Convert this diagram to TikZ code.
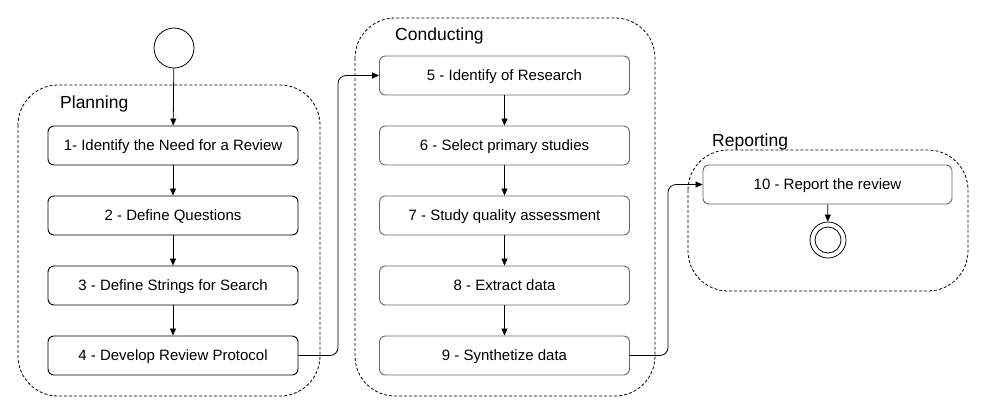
\documentclass[tikz,border=0pt]{standalone}
\usepackage{fontspec}
\setmainfont{Liberation Sans}
\usetikzlibrary{arrows.meta}
\begin{document}
\begin{tikzpicture}[x=1pt,y=-1pt,
  grp/.style={draw, dashed, dash pattern=on 3pt off 2pt, rounded corners=40pt, line width=0.8pt},
  stepbox/.style={draw, rounded corners=6pt, minimum width=250pt, minimum height=39pt, line width=0.9pt, font=\fontsize{15}{17}\selectfont, inner sep=0pt, text depth=0pt, text height=10.5pt},
  graybox/.style={stepbox, draw=black!60},
  grplabel/.style={anchor=west, font=\fontsize{17.5}{20}\selectfont, inner sep=0pt},
  conn/.style={-{Triangle[length=7pt,width=6pt]}, line width=0.8pt},
  elbow/.style={conn, rounded corners=8pt}
]
\useasboundingbox (0,0) rectangle (987,416);
% containers
\draw[grp] (18,85) rectangle (320,396);
\draw[grp] (355,18) rectangle (655,396);
\draw[grp] (688,150) rectangle (968,291);
\node[grplabel] (lp) at (60,104) {Planning};
\node[grplabel] (lc) at (395,35.5) {Conducting};
\node[grplabel] (lr) at (712,142) {Reporting};
% start
\node[draw, circle, minimum size=40pt, inner sep=0pt, line width=0.8pt] (start) at (174,48) {};
% planning
\node[stepbox] (s1) at (173,145.5) {1- Identify the Need for a Review};
\node[stepbox] (s2) at (173,215.5) {2 - Define Questions};
\node[stepbox] (s3) at (173,285.5) {3 - Define Strings for Search};
\node[stepbox] (s4) at (173,355.5) {4 - Develop Review Protocol};
% conducting
\node[graybox] (s5) at (504.5,75.5) {5 - Identify of Research};
\node[graybox] (s6) at (504.5,145.5) {6 - Select primary studies};
\node[graybox] (s7) at (504.5,215.5) {7 - Study quality assessment};
\node[graybox] (s8) at (504.5,285.5) {8 - Extract data};
\node[graybox] (s9) at (504.5,355.5) {9 - Synthetize data};
% reporting
\node[graybox, minimum width=249pt] (s10) at (827.5,184.5) {10 - Report the review};
\node[draw, circle, minimum size=36pt, inner sep=0pt, line width=0.8pt] (endo) at (828,240) {};
\node[draw, circle, minimum size=26pt, inner sep=0pt, line width=0.8pt] (endi) at (828,240) {};
% connectors
\draw[conn] (start) -- (s1);
\draw[conn] (s1) -- (s2);
\draw[conn] (s2) -- (s3);
\draw[conn] (s3) -- (s4);
\draw[conn] (s5) -- (s6);
\draw[conn] (s6) -- (s7);
\draw[conn] (s7) -- (s8);
\draw[conn] (s8) -- (s9);
\draw[conn] (s10) -- (endo);
\draw[elbow] (s4.east) -- (338,355.5) -- (338,75.5) -- (s5.west);
\draw[elbow] (s9.east) -- (668,355.5) -- (668,184.5) -- (s10.west);
\end{tikzpicture}
\end{document}
